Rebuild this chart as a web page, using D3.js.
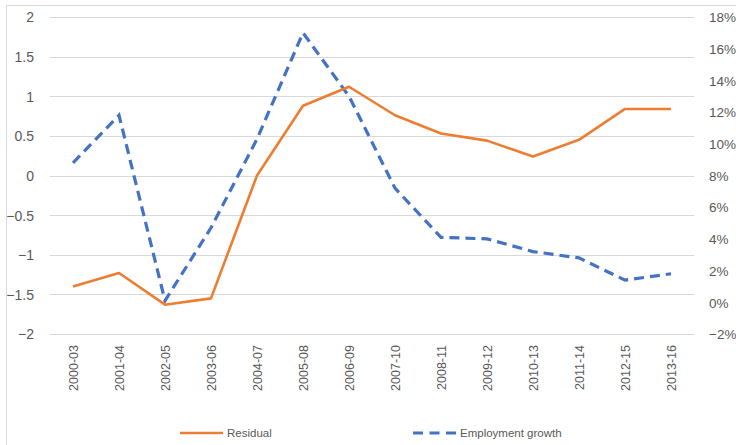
<!DOCTYPE html>
<html lang="en">
<head>
<meta charset="UTF-8">
<title>Residual vs employment growth</title>
<script src="https://d3js.org/d3.v7.min.js"></script>
<style>
    body { margin: 0; background: #fff; }
    text { font-family: "Liberation Sans", Arial, sans-serif; fill: #595959; }
</style>
</head>
<body>
<div id="chart"></div>
<script>
const periods = ["2000-03", "2001-04", "2002-05", "2003-06", "2004-07", "2005-08", "2006-09",
    "2007-10", "2008-11", "2009-12", "2010-13", "2011-14", "2012-15", "2013-16"];
const residual = [-1.40, -1.23, -1.63, -1.55, 0.00, 0.88, 1.12, 0.76, 0.53, 0.44, 0.24, 0.45, 0.84, 0.84];
const employmentGrowth = [0.088, 0.118, 0.001, 0.047, 0.103, 0.170, 0.130, 0.072, 0.041, 0.040, 0.032, 0.028, 0.014, 0.018];
const leftTicks = [-2, -1.5, -1, -0.5, 0, 0.5, 1, 1.5, 2];
const rightTicks = [-0.02, 0, 0.02, 0.04, 0.06, 0.08, 0.10, 0.12, 0.14, 0.16, 0.18];

const width = 736, height = 445;
const margin = {top: 17, right: 42, bottom: 111, left: 50};

const svg = d3.select("#chart").append("svg")
    .attr("width", width)
    .attr("height", height);

// outer chart border
svg.append("rect")
    .attr("x", 6.5).attr("y", 5.5)
    .attr("width", width + 10).attr("height", height + 10)
    .attr("fill", "none")
    .attr("stroke", "#d9d9d9");

const x = d3.scalePoint()
    .domain(periods)
    .range([margin.left, width - margin.right])
    .padding(0.5);

const yLeft = d3.scaleLinear()
    .domain([-2, 2])
    .range([height - margin.bottom, margin.top]);

const yRight = d3.scaleLinear()
    .domain([-0.02, 0.18])
    .range([height - margin.bottom, margin.top]);

// gridlines
svg.append("g")
    .selectAll("line")
    .data(leftTicks)
    .join("line")
    .attr("x1", margin.left)
    .attr("x2", width - margin.right)
    .attr("y1", d => Math.round(yLeft(d)) + 0.5)
    .attr("y2", d => Math.round(yLeft(d)) + 0.5)
    .attr("stroke", "#d9d9d9")
    .attr("stroke-width", 1);

// left axis
const leftAxis = svg.append("g")
    .attr("transform", `translate(${margin.left - 13},0)`)
    .call(d3.axisLeft(yLeft).tickValues(leftTicks).tickSize(0).tickFormat(d3.format("")));
leftAxis.select(".domain").remove();
leftAxis.selectAll("text")
    .attr("dy", "0.35em")
    .style("font-size", "14px")
    .style("font-family", "Liberation Sans, Arial, sans-serif")
    .attr("fill", "#595959");

// right axis (labels run to the page edge, as in the source)
const rightAxis = svg.append("g")
    .attr("transform", `translate(${width - margin.right + 12},0)`)
    .call(d3.axisRight(yRight).tickValues(rightTicks).tickSize(0).tickFormat(d3.format(".0%")));
rightAxis.select(".domain").remove();
rightAxis.selectAll("text")
    .attr("dy", "0.35em")
    .style("font-size", "13.5px")
    .style("font-family", "Liberation Sans, Arial, sans-serif")
    .attr("fill", "#595959");

// x axis labels (rotated)
const xAxis = svg.append("g")
    .attr("transform", `translate(0,${height - margin.bottom})`)
    .call(d3.axisBottom(x).tickSize(0));
xAxis.select(".domain").remove();
xAxis.selectAll("text")
    .attr("transform", "rotate(-90)")
    .attr("text-anchor", "end")
    .attr("x", -11)
    .attr("y", 0)
    .attr("dy", "0.35em")
    .style("font-size", "12.5px")
    .style("font-family", "Liberation Sans, Arial, sans-serif")
    .attr("fill", "#595959");

// lines
const residualLine = d3.line()
    .x((d, i) => x(periods[i]))
    .y(d => yLeft(d));

const growthLine = d3.line()
    .x((d, i) => x(periods[i]))
    .y(d => yRight(d));

svg.append("path")
    .datum(employmentGrowth)
    .attr("d", growthLine)
    .attr("fill", "none")
    .attr("stroke", "#4472c4")
    .attr("stroke-width", 3.2)
    .attr("stroke-dasharray", "10,6");

svg.append("path")
    .datum(residual)
    .attr("d", residualLine)
    .attr("fill", "none")
    .attr("stroke", "#ed7d31")
    .attr("stroke-width", 2.6)
    .attr("stroke-linejoin", "round");

// legend
const legend = svg.append("g").attr("transform", "translate(0,433)");
legend.append("line")
    .attr("x1", 180).attr("x2", 223)
    .attr("stroke", "#ed7d31").attr("stroke-width", 2.6);
legend.append("text")
    .attr("x", 227).attr("dy", "0.35em")
    .style("font-size", "11.5px")
    .text("Residual");
legend.append("line")
    .attr("x1", 413).attr("x2", 456)
    .attr("stroke", "#4472c4").attr("stroke-width", 3.2)
    .attr("stroke-dasharray", "10,6.5");
legend.append("text")
    .attr("x", 460).attr("dy", "0.35em")
    .style("font-size", "11.5px")
    .text("Employment growth");
</script>
</body>
</html>
